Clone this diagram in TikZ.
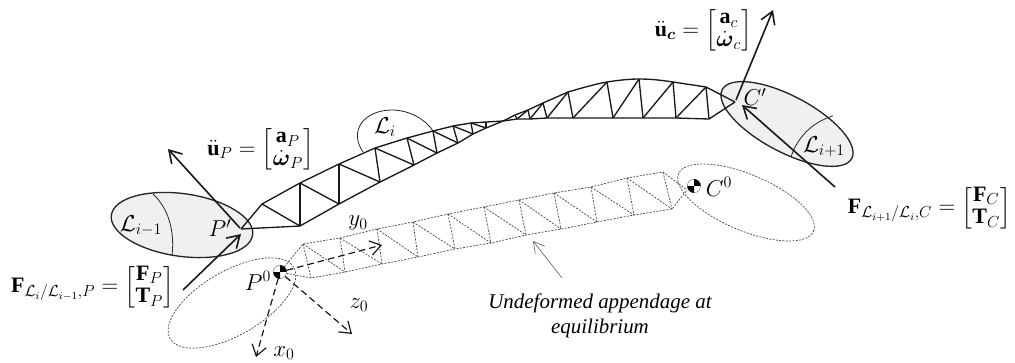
\documentclass[tikz,border=0pt]{standalone}
\usepackage{amsmath}
\usepackage{fontspec}
\setmainfont{Liberation Serif}
\usetikzlibrary{shapes.geometric,arrows.meta}
\tikzset{
  lbl/.style={inner sep=0pt,outer sep=0pt,font=\fontsize{16.5}{17}\selectfont},
  link/.style={ellipse,inner sep=0pt,outer sep=0pt,draw=black!85,line width=1pt},
  linkgray/.style={link,fill=black!6},
  ghost/.style={link,draw=black!70,line width=.55pt,dash pattern=on 1.5pt off 1pt},
  truss/.style={draw=black!90,line width=1pt},
  ghosttruss/.style={draw=black!70,line width=.55pt,dash pattern=on 1.5pt off 1pt},
  bigarrow/.style={draw=black!90,line width=1.2pt,-{Straight Barb[length=9pt,width=11pt,line width=1.2pt]}},
  dasharrow/.style={draw=black!90,line width=.9pt,dash pattern=on 5pt off 3pt,-{Straight Barb[length=8pt,width=11pt,line width=.9pt]}},
  thinarrow/.style={draw=black!60,line width=.5pt,-{Straight Barb[length=8pt,width=9pt,line width=.5pt]}},
}
\newcommand{\cgmark}[2]{%
  \node[circle,inner sep=0pt,minimum size=10pt,draw=black!60,line width=.3pt,fill=white] (#1) at (#2) {};
  \fill[black] (#1.center) -- (#1.north) arc[start angle=90,end angle=0,radius=5pt] -- cycle;
  \fill[black] (#1.center) -- (#1.south) arc[start angle=270,end angle=180,radius=5pt] -- cycle;
}
\begin{document}
\begin{tikzpicture}[x=.75pt,y=-.75pt]
\useasboundingbox (0,0) rectangle (1015,362);
% ghost link ellipses
\node[ghost,minimum width=107pt,minimum height=48pt,rotate=30] (ghostP) at (232,303) {};
\node[ghost,minimum width=110pt,minimum height=42pt,rotate=-23] (ghostC) at (746,202.5) {};
% deformed link ellipses
\node[linkgray,minimum width=107pt,minimum height=47pt,rotate=-8] (linkA) at (182,225) {};
\node[linkgray,minimum width=110pt,minimum height=42pt,rotate=-28] (linkB) at (787,124) {};
% inner arcs
\coordinate (a1) at (153,194); \coordinate (a2) at (172,256);
\draw[line width=.6pt,black!85] (a1) .. controls (168,208) and (175,230) .. (a2);
\coordinate (b1) at (833,116); \coordinate (b2) at (791,157);
\draw[line width=.6pt,black!85] (b1) .. controls (812,122) and (797,138) .. (b2);
\coordinate (c1) at (363,152); \coordinate (c2) at (433,131);
\draw[line width=.6pt,black!85] (c1) .. controls (348,130) and (365,110) .. (392,110) .. controls (410,110) and (426,120) .. (c2);
% deformed truss
\foreach \n/\x/\y in {T0/241/229,T1/262/204,T2/300/183,T3/339/164,T4/375/148,T5/407/138,T6/433/131,T7/453/126,T8/471/123,T9/486/122,
  B1/300/226,B2/339/204,B3/380/182,B4/414/165,B5/437/153,B6/458/143,B7/473/134,B8/486/128,
  X/503/121,
  U1/515/115,U2/528/110,U3/543/103,U4/568/92,U5/607/82,U6/639/79,U7/673/82,U8/706/87,U9/735/102,
  D1/517/119,D2/530/119,D3/547/118,D4/573/118,D5/613/118,D6/643/118,D7/676/118,D8/709/119}
  {\coordinate (\n) at (\x,\y);}
\draw[truss,line join=round] (T0) -- (T1) -- (T2) -- (T3) -- (T4) -- (T5) -- (T6) -- (T7) -- (T8) -- (T9) -- (X)
  -- (U1) -- (U2) -- (U3) -- (U4) .. controls (585,87) and (600,83) .. (U5) .. controls (620,80) and (630,79) .. (U6) .. controls (650,79) and (660,80) .. (U7) -- (U8) -- (U9);
\draw[truss,line join=round] (T0) -- (B1) -- (B2) -- (B3) -- (B4) -- (B5) -- (B6) -- (B7) -- (B8) -- (X)
  -- (D1) -- (D2) -- (D3) -- (D4) -- (D5) -- (D6) -- (D7) -- (D8) -- (U9);
\foreach \a/\b in {T1/B1,T2/B1,T2/B2,T3/B2,T3/B3,T4/B3,T4/B4,T5/B4,T5/B5,T6/B5,T6/B6,T7/B6,T7/B7,T8/B7,T8/B8,T9/B8,
  U1/D1,D1/U2,U2/D2,D2/U3,U3/D3,D3/U4,U4/D4,D4/U5,U5/D5,D5/U6,U6/D6,D6/U7,U7/D7,D7/U8,U8/D8}
  {\draw[truss] (\a) -- (\b);}
% undeformed truss
\foreach \n/\x/\y in {G0/280/272,H/687/190,
  P1/303/244,P2/340/238,P3/377/229,P4/413/222,P5/448/214,P6/484/207,P7/519/200,P8/554/193,P9/591/187,P10/627/178,P11/663/172,
  Q1/311/278,Q2/345/272,Q3/382/264,Q4/418/257,Q5/455/249,Q6/491/243,Q7/526/235,Q8/561/229,Q9/597/222,Q10/634/215,Q11/672/209}
  {\coordinate (\n) at (\x,\y);}
\draw[ghosttruss] (G0) -- (P1) -- (P2) -- (P3) -- (P4) -- (P5) -- (P6) -- (P7) -- (P8) -- (P9) -- (P10) -- (P11) -- (H);
\draw[ghosttruss] (G0) -- (Q1) -- (Q2) -- (Q3) -- (Q4) -- (Q5) -- (Q6) -- (Q7) -- (Q8) -- (Q9) -- (Q10) -- (Q11) -- (H);
\foreach \a/\b in {P1/Q1,P1/Q2,P2/Q2,P2/Q3,P3/Q3,P3/Q4,P4/Q4,P4/Q5,P5/Q5,P5/Q6,P6/Q6,P6/Q7,P7/Q7,P7/Q8,P8/Q8,P8/Q9,P9/Q9,P9/Q10,P10/Q10,P10/Q11,P11/Q11}
  {\draw[ghosttruss] (\a) -- (\b);}
% cg markers
\cgmark{Pzero}{280,272}
\cgmark{Czero}{694,186}
% force and acceleration arrows
\coordinate (ap1) at (240,228); \coordinate (ap2) at (168,149);
\coordinate (fp1) at (183,290); \coordinate (fp2) at (241,234);
\coordinate (ac1) at (736,100); \coordinate (ac2) at (773,10);
\coordinate (fc1) at (835,187); \coordinate (fc2) at (742,105);
\draw[bigarrow] (ap1) -- (ap2);
\draw[bigarrow] (fp1) -- (fp2);
\draw[bigarrow] (ac1) -- (ac2);
\draw[bigarrow] (fc1) -- (fc2);
% body axes
\coordinate (yend) at (382,245); \coordinate (zend) at (352,334); \coordinate (xend) at (256,357);
\draw[dasharrow] (Pzero) -- (yend);
\draw[dasharrow] (Pzero) -- (zend);
\draw[dasharrow] (Pzero) -- (xend);
% pointer
\coordinate (pt1) at (562,278); \coordinate (pt2) at (533,241);
\draw[thinarrow] (pt1) -- (pt2);
% labels
\node[lbl] (lLm) at (141,226) {$\mathcal{L}_{i-1}$};
\node[lbl] (lPp) at (220,228) {$P'$};
\node[lbl] (lLi) at (385,127) {$\mathcal{L}_{i}$};
\node[lbl] (lCp) at (755,97) {$C'$};
\node[lbl] (lLp) at (824,147) {$\mathcal{L}_{i+1}$};
\node[lbl] (ly) at (358,223) {$y_0$};
\node[lbl] (lz) at (359,305) {$z_0$};
\node[lbl] (lx) at (284,353) {$x_0$};
\node[lbl] (lP0) at (258,281) {$P^0$};
\node[lbl] (lC0) at (719,187) {$C^0$};
\node[lbl,anchor=east] (up) at (314,149.5) {$\ddot{\mathbf{u}}_{P}=\begin{bmatrix}\mathbf{a}_{P}\\ \dot{\boldsymbol{\omega}}_{P}\end{bmatrix}$};
\node[lbl,anchor=east] (uc) at (752,30.5) {$\ddot{\mathbf{u}}_{\boldsymbol{c}}=\begin{bmatrix}\mathbf{a}_{c}\\ \dot{\boldsymbol{\omega}}_{c}\end{bmatrix}$};
\node[lbl,anchor=east] (fp) at (174,287) {$\mathbf{F}_{\mathcal{L}_i/\mathcal{L}_{i-1},P}=\begin{bmatrix}\mathbf{F}_{P}\\ \mathbf{T}_{P}\end{bmatrix}$};
\node[lbl,anchor=east] (fc) at (1011,208) {$\mathbf{F}_{\mathcal{L}_{i+1}/\mathcal{L}_i,C}=\begin{bmatrix}\mathbf{F}_{C}\\ \mathbf{T}_{C}\end{bmatrix}$};
\node[font=\fontsize{15.7}{18.8}\selectfont\itshape,align=center,inner sep=0pt] (cap) at (600,315.5) {Undeformed appendage at\\equilibrium};
\end{tikzpicture}
\end{document}
